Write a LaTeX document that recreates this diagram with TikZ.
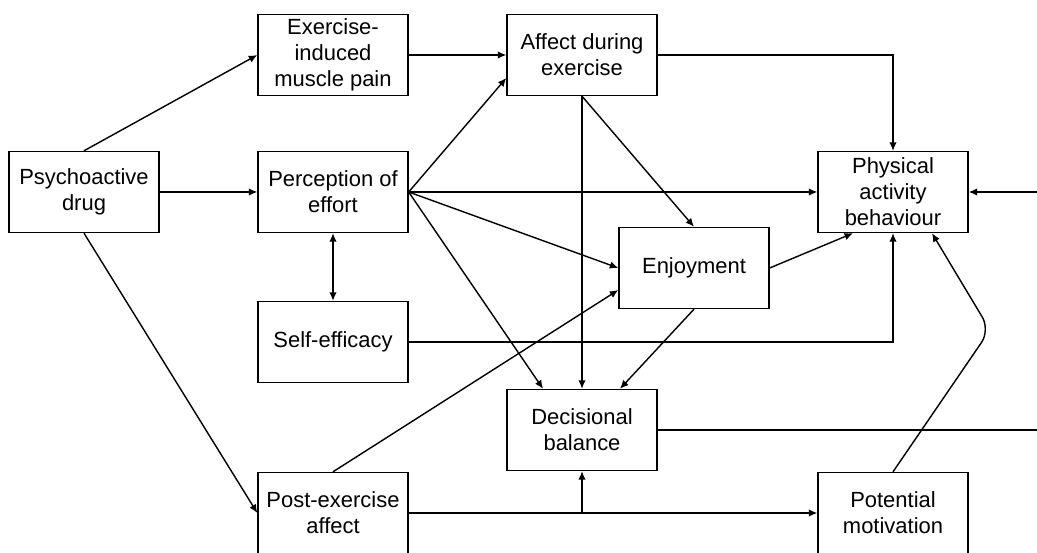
\documentclass[tikz,border=0pt]{standalone}
\usepackage{fontspec}
\setmainfont{Liberation Sans}
\usetikzlibrary{arrows.meta}

\begin{document}
\begin{tikzpicture}[x=0.02cm,y=-0.02cm,
  font=\fontsize{12.5}{14.8}\selectfont,
  box/.style={draw,line width=.8pt,align=center,minimum width=3cm,minimum height=1.62cm,inner sep=2pt},
  link/.style={line width=.8pt,-{Latex[length=1.7mm,width=1.5mm]}},
  >={Latex[length=1.7mm,width=1.5mm]}]
\useasboundingbox (0,0) rectangle (1037,553);
\clip (0,0) rectangle (1037,553);

\node[box] (drug) at (84,192) {Psychoactive\\drug};
\node[box] (pain) at (333,55) {Exercise-\\induced\\muscle pain};
\node[box] (effort) at (333,192) {Perception of\\effort};
\node[box] (efficacy) at (333,342) {Self-efficacy};
\node[box] (post) at (333,513) {Post-exercise\\affect};
\node[box] (during) at (582,55) {Affect during\\exercise};
\node[box] (enjoy) at (694,268) {Enjoyment};
\node[box] (dec) at (582,430) {Decisional\\balance};
\node[box] (pab) at (893,192) {Physical\\activity\\behaviour};
\node[box] (motiv) at (893,513) {Potential\\motivation};

\coordinate (rail) at (1045,192);
\coordinate (bend) at (990,330);

\draw[link] (drug.north) -- (pain.west);
\draw[link] (drug) -- (effort);
\draw[link] (drug.south) -- (post.west);
\draw[link] (pain) -- (during);

\draw[link] (effort.east) -- ([yshift=-0.46cm]during.west);
\draw[link] (effort.east) -- (pab.west);
\draw[link] (effort.east) -- (enjoy.west);
\draw[link] (effort.east) -- ([xshift=-0.78cm]dec.north);
\draw[link,<->] (effort) -- (efficacy);
\draw[link] (efficacy.east) -| (pab.south);

\draw[link] (during.south) -- (dec.north);
\draw[link] (during.south) -- (enjoy.north);
\draw[link] (during.east) -| (pab.north);

\draw[link] (enjoy.east) -- ([xshift=-0.8cm]pab.south);
\draw[link] (enjoy.south) -- ([xshift=0.76cm]dec.north);
\draw[link] (post.north) -- ([yshift=-0.44cm]enjoy.west);

\draw[link] (dec.east) -| (rail) -- (pab.east);
\draw[link] (post.east) -- (motiv.west);
\draw[link] (post.east -| dec.south) -- (dec.south);
\draw[link,rounded corners=0.3cm] (motiv.north) -- (bend) -- ([xshift=0.78cm]pab.south);
\end{tikzpicture}
\end{document}
